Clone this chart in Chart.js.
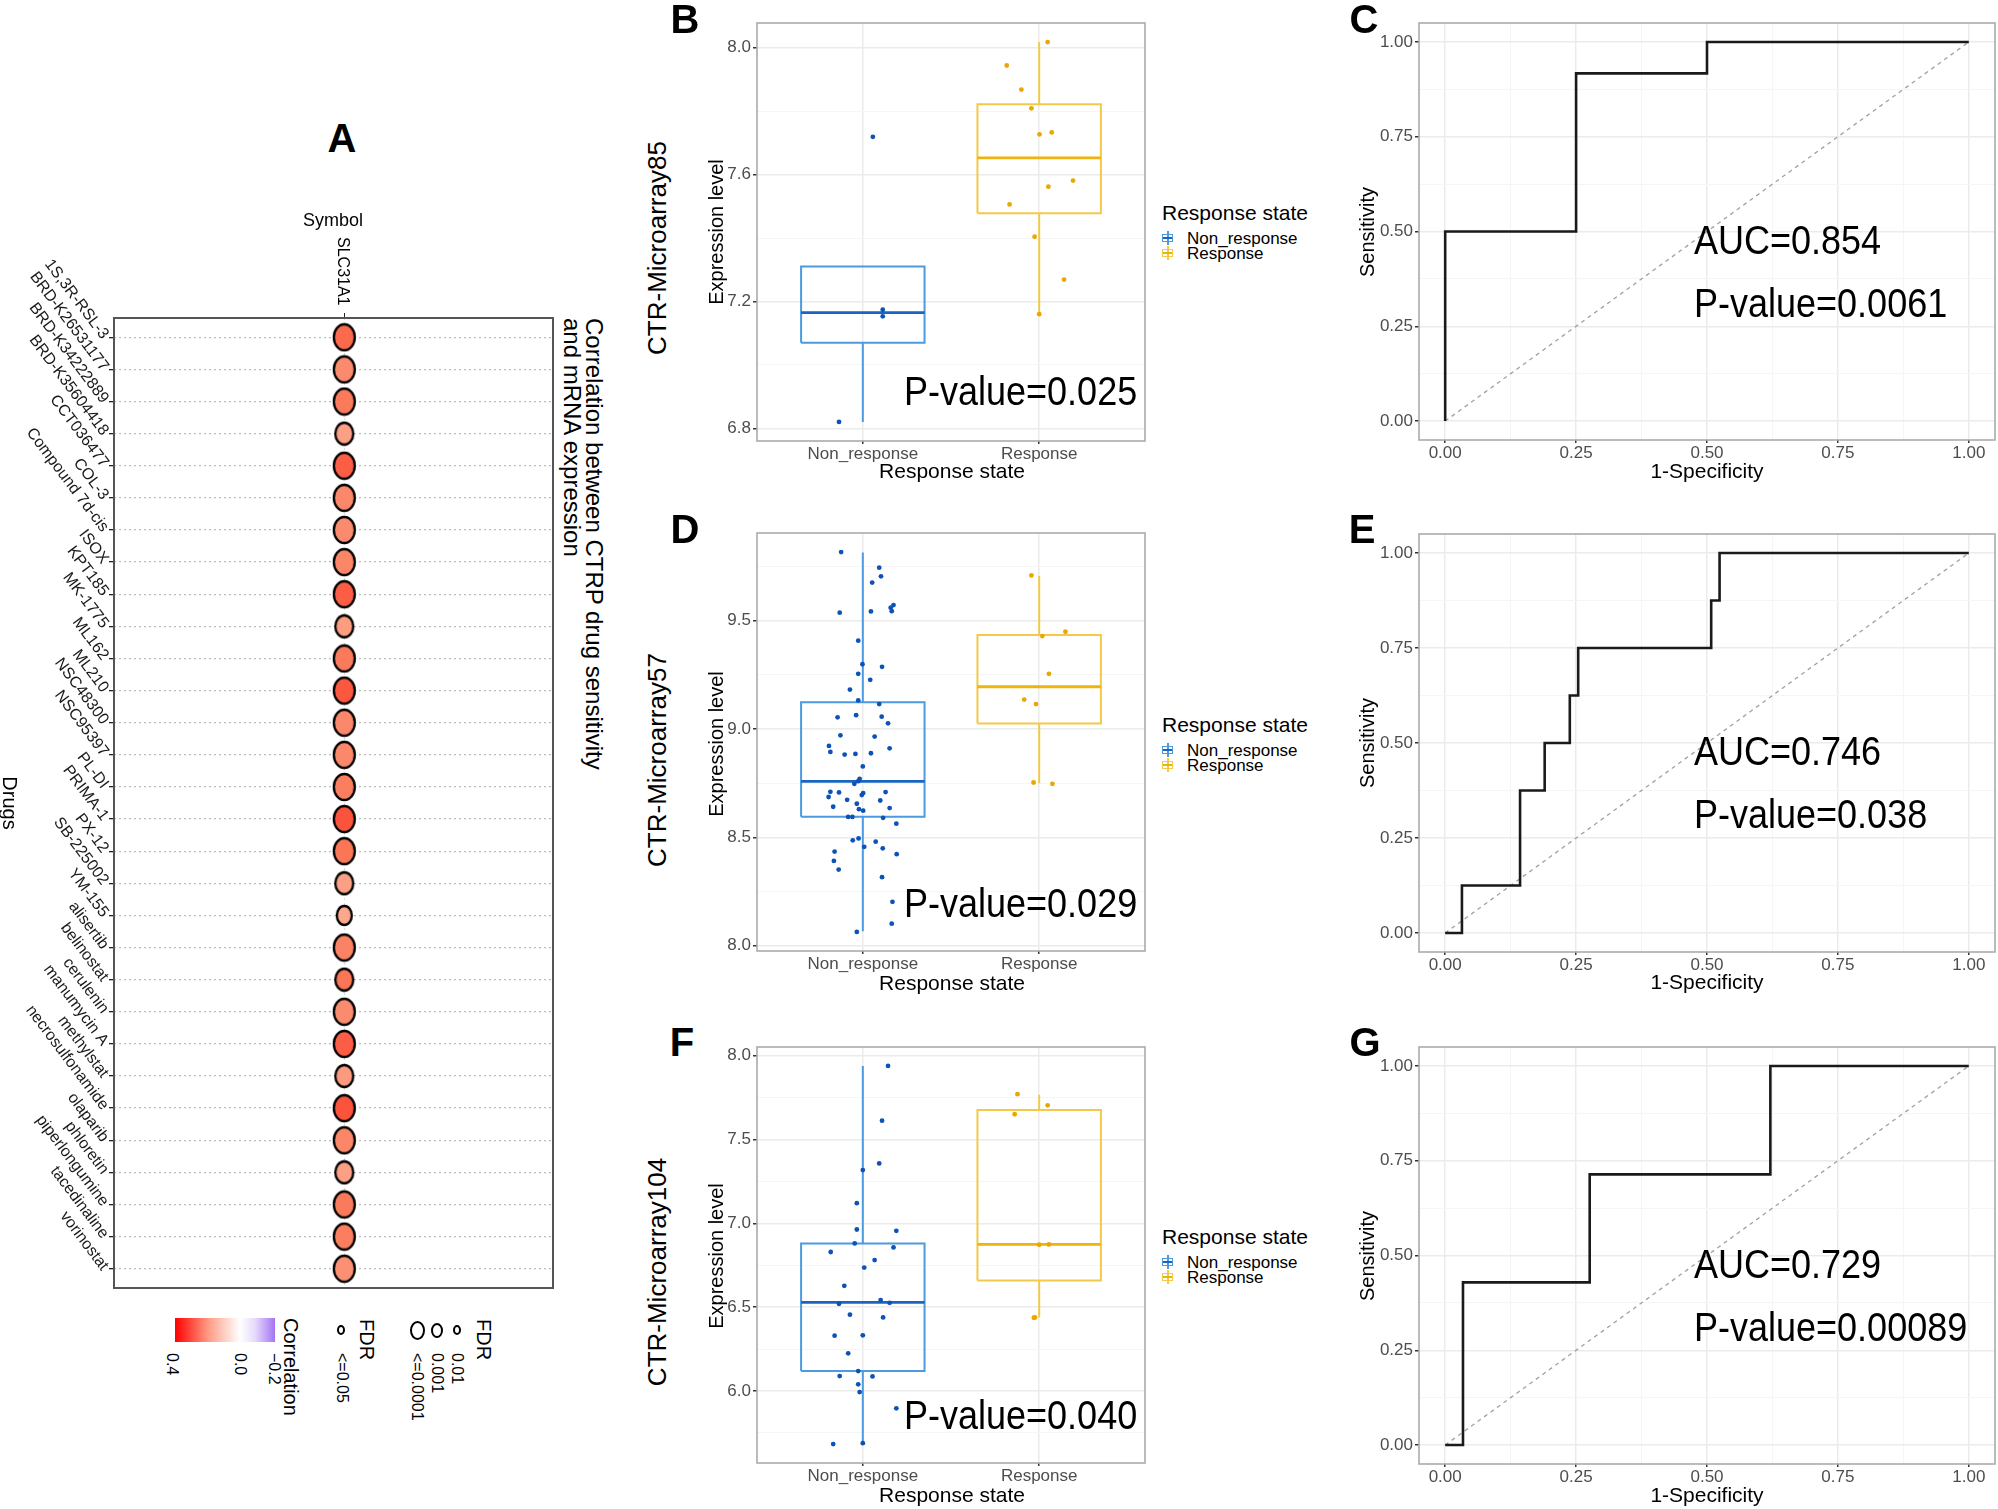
<!DOCTYPE html>
<html>
<head>
<meta charset="utf-8">
<script src="https://cdn.jsdelivr.net/npm/chart.js@4.4.0/dist/chart.umd.min.js"></script>
<style>
  body { margin: 0; background: #fff; width: 1998px; height: 1509px; position: relative; overflow: hidden;
         font-family: "Liberation Sans", Arial, sans-serif; color: #000; }
  .pane { position: absolute; }
  .t { position: absolute; white-space: nowrap; line-height: 1; }
  .v { writing-mode: vertical-rl; }
</style>
</head>
<body>
<script>
// ---------- panel A: drug sensitivity correlation ----------
const geneSymbol = 'SLC31A1';
const drugs = ['1S,3R-RSL-3', 'BRD-K26531177', 'BRD-K34222889', 'BRD-K35604418', 'CCT036477', 'COL-3',
  'Compound 7d-cis', 'ISOX', 'KPT185', 'MK-1775', 'ML162', 'ML210', 'NSC48300', 'NSC95397', 'PL-DI',
  'PRIMA-1', 'PX-12', 'SB-225002', 'YM-155', 'alisertib', 'belinostat', 'cerulenin', 'manumycin A',
  'methylstat', 'necrosulfonamide', 'olaparib', 'phloretin', 'piperlongumine', 'tacedinaline', 'vorinostat'];
const drugCorr = [0.31, 0.26, 0.29, 0.22, 0.32, 0.265, 0.26, 0.27, 0.32, 0.225, 0.29, 0.325, 0.265, 0.265, 0.285,
  0.33, 0.30, 0.22, 0.205, 0.275, 0.30, 0.26, 0.32, 0.23, 0.33, 0.27, 0.22, 0.29, 0.285, 0.25];
const drugFdr = [0.0001, 0.0001, 0.0001, 0.001, 0.0001, 0.0001, 0.0001, 0.0001, 0.0001, 0.001, 0.0001, 0.0001,
  0.0001, 0.0001, 0.0001, 0.0001, 0.0001, 0.001, 0.01, 0.0001, 0.001, 0.0001, 0.0001, 0.001, 0.0001, 0.0001,
  0.001, 0.0001, 0.0001, 0.0001];

// ---------- boxplots B / D / F ----------
const groups = ['Non_response', 'Response'];
// [jittered x, expression]
const ma85Non = [[1.057, 7.719], [1.113, 7.174], [1.113, 7.153], [0.865, 6.82]];
const ma85Resp = [[2.048, 8.018], [1.816, 7.944], [1.899, 7.868], [1.956, 7.809], [2.002, 7.727], [2.071, 7.733],
  [2.192, 7.581], [2.052, 7.562], [1.832, 7.506], [1.974, 7.404], [2.141, 7.269], [2.0, 7.160]];
// lower whisker, q1, median, q3, upper whisker
const ma85BoxNon = [6.82, 7.07, 7.165, 7.31, 7.31];
const ma85BoxResp = [7.16, 7.478, 7.653, 7.822, 8.018];
const ma85Range = [6.76, 8.078];
const ma85Ticks = [6.8, 7.2, 7.6, 8.0];
const ma85Minor = [7.0, 7.4, 7.8];

const ma57Non = [[0.877, 9.817], [1.093, 9.745], [1.103, 9.705], [1.053, 9.676], [0.869, 9.537], [1.046, 9.543],
  [1.158, 9.560], [1.174, 9.572], [1.164, 9.544], [0.974, 9.408], [0.998, 9.299], [1.109, 9.287], [0.974, 9.255],
  [1.042, 9.227], [0.927, 9.182], [0.974, 9.132], [1.093, 9.115], [0.857, 9.054], [0.962, 9.064], [1.107, 9.057],
  [1.143, 9.026], [0.873, 8.971], [1.067, 8.965], [0.808, 8.922], [0.816, 8.894], [0.897, 8.882], [0.958, 8.885],
  [1.046, 8.888], [1.152, 8.911], [1.0, 8.827], [0.982, 8.770], [0.974, 8.759], [0.952, 8.747], [0.816, 8.710],
  [0.865, 8.707], [1.002, 8.704], [0.994, 8.695], [1.129, 8.709], [0.806, 8.686], [0.911, 8.673], [1.099, 8.670],
  [0.966, 8.655], [0.978, 8.630], [1.002, 8.623], [0.832, 8.641], [1.152, 8.635], [0.917, 8.594], [0.941, 8.594],
  [1.115, 8.590], [1.190, 8.563], [0.943, 8.486], [0.976, 8.495], [1.008, 8.456], [1.073, 8.480], [1.113, 8.449],
  [0.840, 8.434], [0.836, 8.391], [1.192, 8.422], [0.863, 8.351], [1.109, 8.316], [1.168, 8.202], [1.164, 8.101],
  [0.966, 8.063]];
const ma57Resp = [[1.956, 9.709], [2.018, 9.429], [2.149, 9.449], [2.055, 9.255], [1.915, 9.136], [1.982, 9.115],
  [1.968, 8.753], [2.075, 8.747]];
const ma57BoxNon = [8.066, 8.595, 8.758, 9.123, 9.815];
const ma57BoxResp = [8.749, 9.025, 9.195, 9.434, 9.707];
const ma57Range = [7.975, 9.905];
const ma57Ticks = [8.0, 8.5, 9.0, 9.5];
const ma57Minor = [8.25, 8.75, 9.25, 9.75];

const ma104Non = [[1.143, 7.938], [1.109, 7.612], [1.093, 7.357], [1.0, 7.317], [0.966, 7.120], [0.966, 6.963],
  [1.190, 6.955], [0.954, 6.880], [1.174, 6.856], [0.818, 6.829], [1.067, 6.781], [1.008, 6.736], [0.895, 6.627],
  [1.101, 6.542], [1.152, 6.526], [0.865, 6.520], [0.927, 6.455], [1.115, 6.439], [0.840, 6.330], [1.0, 6.332],
  [0.917, 6.225], [0.974, 6.119], [0.869, 6.089], [1.055, 6.087], [0.974, 6.040], [0.982, 5.994], [1.190, 5.897],
  [0.832, 5.684], [1.0, 5.689]];
const ma104Resp = [[1.877, 7.770], [1.861, 7.650], [2.048, 7.703], [2.0, 6.872], [2.055, 6.874], [1.970, 6.437],
  [1.976, 6.439]];
const ma104BoxNon = [5.687, 6.119, 6.528, 6.880, 7.938];
const ma104BoxResp = [6.439, 6.659, 6.874, 7.675, 7.766];
const ma104Range = [5.571, 8.051];
const ma104Ticks = [6.0, 6.5, 7.0, 7.5, 8.0];
const ma104Minor = [5.75, 6.25, 6.75, 7.25, 7.75];

const boxPValues = ['0.025', '0.029', '0.040'];

// ---------- ROC curves C / E / G ----------
const rocCfpr = [0, 0, 0.25, 0.25, 0.5, 0.5, 1];
const rocCtpr = [0, 0.5, 0.5, 0.917, 0.917, 1, 1];
const rocEfpr = [0, 0.032, 0.032, 0.143, 0.143, 0.19, 0.19, 0.238, 0.238, 0.254, 0.254, 0.508, 0.508, 0.524, 0.524, 1];
const rocEtpr = [0, 0, 0.125, 0.125, 0.375, 0.375, 0.5, 0.5, 0.625, 0.625, 0.75, 0.75, 0.875, 0.875, 1, 1];
const rocGfpr = [0, 0.034, 0.034, 0.276, 0.276, 0.621, 0.621, 1];
const rocGtpr = [0, 0, 0.429, 0.429, 0.714, 0.714, 1, 1];
const rocAuc = ['0.854', '0.746', '0.729'];
const rocP = ['0.0061', '0.038', '0.00089'];
const rocRange = [-0.05, 1.05];
const rocTicks = [0, 0.25, 0.5, 0.75, 1];
const rocMinor = [0.125, 0.375, 0.625, 0.875];

// ---------------------------------------------------------------
Chart.defaults.font.family = '"Liberation Sans", Arial, sans-serif';
Chart.defaults.animation = false;
Chart.defaults.plugins.legend.display = false;
Chart.defaults.plugins.tooltip.enabled = false;

// panel border (theme_bw style)
Chart.register({
  id: 'frame',
  afterDatasetsDraw(chart, args, opts) {
    const a = chart.chartArea, ctx = chart.ctx;
    ctx.save();
    ctx.strokeStyle = opts.color || '#AAAAAA';
    ctx.lineWidth = opts.width || 1.5;
    ctx.strokeRect(a.left, a.top, a.right - a.left, a.bottom - a.top);
    ctx.restore();
  }
});

const colors = { nonBox: '#4C9ADF', nonMed: '#1965C1', nonPt: '#0D52B5',
                 respBox: '#F3C94A', respMed: '#EEB40B', respPt: '#E9A800' };

function place(area, pad) {
  const d = document.createElement('div');
  d.className = 'pane';
  d.style.left = (area[0] - pad.l) + 'px';
  d.style.top = (area[1] - pad.t) + 'px';
  d.style.width = (area[2] - area[0] + pad.l + pad.r) + 'px';
  d.style.height = (area[3] - area[1] + pad.t + pad.b) + 'px';
  const c = document.createElement('canvas');
  d.appendChild(c);
  document.body.appendChild(d);
  return c;
}

function label(s, x, y, size, extra) {
  const e = Object.assign({ anchor: 'center' }, extra);
  const d = document.createElement('div');
  d.className = 't' + (e.vert ? ' v' : '');
  d.innerHTML = s;
  d.style.left = x + 'px';
  d.style.top = y + 'px';
  d.style.fontSize = size + 'px';
  if (e.bold) d.style.fontWeight = 'bold';
  if (e.lh) d.style.lineHeight = e.lh + 'px';
  let tf = '';
  if (e.anchor === 'center') tf = 'translate(-50%,-50%)';
  else if (e.anchor === 'left') { tf = 'translate(0,-50%)'; d.style.transformOrigin = '0 50%'; }
  else if (e.anchor === 'top') tf = 'translate(-50%,0)';
  if (e.rot) tf += ' rotate(' + e.rot + 'deg)';
  if (e.sx) tf += ' scaleX(' + e.sx + ')';
  d.style.transform = tf;
  document.body.appendChild(d);
  return d;
}

// fixed axis size, no extra label padding
function fixW(w) { return s => { s.width = w; s.paddingTop = 0; s.paddingBottom = 0; }; }
function fixH(h) { return s => { s.height = h; s.paddingLeft = 0; s.paddingRight = 0; }; }

function numScale(range, major, minor, fmt, extra, tickOpts) {
  const all = major.concat(minor).sort((a, b) => a - b);
  const isMajor = v => major.some(m => Math.abs(m - v) < 1e-9);
  return Object.assign({
    type: 'linear', min: range[0], max: range[1],
    afterBuildTicks: s => { s.ticks = all.map(v => ({ value: v })); },
    ticks: Object.assign({ callback: v => isMajor(v) ? fmt(v) : '', color: '#4D4D4D', font: { size: 17 }, padding: 2,
             autoSkip: false, maxRotation: 0 }, tickOpts),
    grid: {
      color: c => c.tick && isMajor(c.tick.value) ? '#EBEBEB' : '#F5F5F5',
      lineWidth: c => c.tick && isMajor(c.tick.value) ? 1.5 : 1,
      tickColor: c => c.tick && isMajor(c.tick.value) ? '#333333' : 'rgba(0,0,0,0)',
      tickLength: (tickOpts && tickOpts.tl) || 4
    },
    border: { display: false }
  }, extra);
}

// ---------- boxplot panels ----------
const HALF_BOX = 0.35;
function boxChart(area, nonPts, respPts, boxNon, boxResp, range, major, minor) {
  const pad = { l: 60, r: 10, t: 10, b: 30 };
  const canvas = place(area, pad);
  const datasets = [];
  [[nonPts, colors.nonPt], [respPts, colors.respPt]].forEach(([pts, col]) => {
    datasets.push({ data: pts.map(p => ({ x: p[0], y: p[1] })), pointRadius: 2.4,
                    pointBackgroundColor: col, pointBorderWidth: 0, showLine: false });
  });
  [boxNon, boxResp].forEach((b, i) => {
    const c = i + 1;
    const col = i === 0 ? colors.nonBox : colors.respBox;
    const med = i === 0 ? colors.nonMed : colors.respMed;
    const line = (pts, color, w) => datasets.push({ data: pts, showLine: true, borderColor: color,
      borderWidth: w, pointRadius: 0, borderJoinStyle: 'miter' });
    line([{ x: c - HALF_BOX, y: b[2] }, { x: c + HALF_BOX, y: b[2] }], med, 2.8);
    line([{ x: c - HALF_BOX, y: b[1] }, { x: c + HALF_BOX, y: b[1] }, { x: c + HALF_BOX, y: b[3] },
          { x: c - HALF_BOX, y: b[3] }, { x: c - HALF_BOX, y: b[1] }], col, 2);
    line([{ x: c, y: b[0] }, { x: c, y: b[1] }], col, 2);
    line([{ x: c, y: b[3] }, { x: c, y: b[4] }], col, 2);
  });
  new Chart(canvas, {
    type: 'scatter',
    data: { datasets },
    options: {
      responsive: true, maintainAspectRatio: false,
      layout: { autoPadding: false, padding: { top: pad.t, right: pad.r, left: 0, bottom: 0 } },
      plugins: { frame: { color: '#ABABAB', width: 1.6 } },
      scales: {
        x: {
          type: 'linear', min: 0.4, max: 2.6,
          afterBuildTicks: s => { s.ticks = groups.map((g, i) => ({ value: i + 1 })); },
          ticks: { callback: (v, i) => groups[i], color: '#4D4D4D', font: { size: 17 }, padding: 0,
                   maxRotation: 0, autoSkip: false },
          grid: { color: '#EBEBEB', lineWidth: 1.5, tickColor: '#333333', tickLength: 3 },
          border: { display: false },
          afterFit: fixH(pad.b)
        },
        y: numScale(range, major, minor, v => v.toFixed(1), { afterFit: fixW(pad.l) })
      }
    }
  });
}

// ---------- ROC panels ----------
const chanceLine = [0, 1];
function rocChart(area, fpr, tpr) {
  const pad = { l: 60, r: 3, t: 10, b: 30 };
  const canvas = place(area, pad);
  new Chart(canvas, {
    type: 'scatter',
    data: {
      datasets: [
        { data: fpr.map((f, i) => ({ x: f, y: tpr[i] })), showLine: true, borderColor: '#1A1A1A',
          borderWidth: 2.6, pointRadius: 0, borderJoinStyle: 'miter' },
        { data: chanceLine.map(v => ({ x: v, y: v })), showLine: true, borderColor: '#A0A0A0',
          borderWidth: 1.3, borderDash: [4, 4], pointRadius: 0 }
      ]
    },
    options: {
      responsive: true, maintainAspectRatio: false,
      layout: { autoPadding: false, padding: { top: pad.t, right: pad.r, left: 0, bottom: 0 } },
      plugins: { frame: { color: '#ABABAB', width: 1.6 } },
      scales: {
        x: numScale(rocRange, rocTicks, rocMinor, v => v.toFixed(2), { afterFit: fixH(pad.b) },
                    { padding: 0, tl: 3 }),
        y: numScale(rocRange, rocTicks, rocMinor, v => v.toFixed(2), { afterFit: fixW(pad.l) })
      }
    }
  });
}

// ---------- correlation dot panel ----------
function corrColor(r) {
  const stops = [[0, [255, 255, 255]], [0.1, [255, 214, 200]], [0.2, [252, 170, 145]],
                 [0.3, [250, 118, 86]], [0.4, [255, 0, 0]]];
  const v = Math.max(0, Math.min(0.4, r));
  for (let i = 1; i < stops.length; i++) {
    if (v <= stops[i][0]) {
      const [a0, c0] = stops[i - 1], [a1, c1] = stops[i];
      const f = (v - a0) / (a1 - a0);
      return 'rgb(' + c0.map((c, k) => Math.round(c + (c1[k] - c) * f)).join(',') + ')';
    }
  }
  return 'rgb(255,0,0)';
}
function fdrSize(f) {
  if (f <= 0.0001) return [21, 26];
  if (f <= 0.001) return [18, 22];
  return [15, 19];
}
function ellipseSprite(fill, w, h) {
  const c = document.createElement('canvas');
  c.width = w + 4; c.height = h + 4;
  const g = c.getContext('2d');
  g.beginPath();
  g.ellipse(c.width / 2, c.height / 2, w / 2, h / 2, 0, 0, Math.PI * 2);
  g.fillStyle = fill; g.fill();
  g.lineWidth = 2.3; g.strokeStyle = '#000'; g.stroke();
  return c;
}

function dotChart(area) {
  const pad = { l: 114, r: 2, t: 118, b: 4 };
  const canvas = place(area, pad);
  const sprites = drugs.map((d, i) => { const s = fdrSize(drugFdr[i]); return ellipseSprite(corrColor(drugCorr[i]), s[0], s[1]); });
  new Chart(canvas, {
    type: 'scatter',
    data: { datasets: [{ data: drugs.map((d, i) => ({ x: 1, y: i + 1 })), pointStyle: sprites, pointRadius: 12 }] },
    options: {
      responsive: true, maintainAspectRatio: false,
      layout: { autoPadding: false, padding: { top: 0, right: pad.r, left: 0, bottom: pad.b } },
      plugins: { frame: { color: '#555555', width: 2 } },
      scales: {
        x: {
          type: 'linear', position: 'top', min: 0.36, max: 1.58,
          afterBuildTicks: s => { s.ticks = [{ value: 1 }]; },
          ticks: { callback: () => '', autoSkip: false },
          grid: { color: '#DDDDDD', lineWidth: 1, tickColor: '#222', tickLength: 5 },
          border: { display: false, dash: [2, 3] },
          afterFit: fixH(pad.t)
        },
        y: {
          type: 'linear', min: 0.4, max: 30.6, reverse: true,
          afterBuildTicks: s => { s.ticks = drugs.map((d, i) => ({ value: i + 1 })); },
          ticks: { callback: v => drugs[Math.round(v) - 1], color: '#1A1A1A', font: { size: 16 },
                   padding: 4, autoSkip: false, minRotation: -53 },
          grid: { color: '#BBBBBB', lineWidth: 1.3, tickColor: '#222', tickLength: 5 },
          border: { display: false, dash: [2, 3] },
          afterFit: fixW(pad.l)
        }
      }
    }
  });
}

// ---------- build ----------
dotChart([114, 318, 553, 1288]);

boxChart([757, 23, 1145, 441], ma85Non, ma85Resp, ma85BoxNon, ma85BoxResp, ma85Range, ma85Ticks, ma85Minor);
boxChart([757, 533, 1145, 951], ma57Non, ma57Resp, ma57BoxNon, ma57BoxResp, ma57Range, ma57Ticks, ma57Minor);
boxChart([757, 1047, 1145, 1463], ma104Non, ma104Resp, ma104BoxNon, ma104BoxResp, ma104Range, ma104Ticks, ma104Minor);

rocChart([1419, 23, 1995, 440], rocCfpr, rocCtpr);
rocChart([1419, 534, 1995, 952], rocEfpr, rocEtpr);
rocChart([1419, 1047, 1995, 1464], rocGfpr, rocGtpr);

// panel letters
[['A', 342, 138], ['B', 685, 19], ['C', 1364, 19], ['D', 685, 529], ['E', 1362, 529], ['F', 682, 1042], ['G', 1365, 1042]]
  .forEach(p => label(p[0], p[1], p[2], 40, { bold: true }));

// panel A texts
label('Symbol', 333, 220, 18);
label(geneSymbol, 343, 237, 16, { vert: true, anchor: 'top' });
label('Drugs', 10, 803, 20, { vert: true });
label('Correlation between CTRP drug sensitivity<br>and mRNA expression', 561, 318, 24, { vert: true, anchor: 'none', lh: 22 });

// panel A legends (rotated)
const grad = document.createElement('div');
grad.style.cssText = 'position:absolute;left:175px;top:1318px;width:100px;height:24px;' +
  'background:linear-gradient(to right,#FF0000 0%,#FF9A82 33%,#FFFFFF 65%,#E6DAFB 80%,#A374F4 100%)';
document.body.appendChild(grad);
label('0.4', 172, 1353, 16, { vert: true, anchor: 'top' });
label('0.0', 240, 1353, 16, { vert: true, anchor: 'top' });
label('\u22120.2', 274, 1353, 16, { vert: true, anchor: 'top' });
label('Correlation', 291, 1318, 20, { vert: true, anchor: 'top' });
label('FDR', 367, 1319, 20, { vert: true, anchor: 'top' });
label('&lt;=0.05', 342, 1353, 16, { vert: true, anchor: 'top' });
label('FDR', 484, 1319, 20, { vert: true, anchor: 'top' });
label('0.01', 457, 1353, 16, { vert: true, anchor: 'top' });
label('0.001', 437, 1353, 16, { vert: true, anchor: 'top' });
label('&lt;=0.0001', 417, 1353, 16, { vert: true, anchor: 'top' });
[[341, 8, 10], [457, 8, 10], [437, 12, 15], [417, 15, 19]].forEach(k => {
  const e = document.createElement('div');
  e.style.cssText = 'position:absolute;border:2px solid #000;border-radius:50%;box-sizing:border-box;' +
    'left:' + (k[0] - k[1] / 2) + 'px;top:' + (1330 - k[2] / 2) + 'px;width:' + k[1] + 'px;height:' + k[2] + 'px';
  document.body.appendChild(e);
});

// boxplot panel texts
const boxTitles = ['CTR-Microarray85', 'CTR-Microarray57', 'CTR-Microarray104'];
[0, 512, 1024].forEach((dy, i) => {
  label(boxTitles[i], 657, 248 + dy, 26, { rot: -90 });
  label('Expression level', 716, 232 + dy, 20, { rot: -90 });
  label('Response state', 952, 470 + dy, 21);
  label('P-value=' + boxPValues[i], 904, 391 + dy, 40, { anchor: 'left', sx: 0.9 });
  label('Response state', 1162, 212 + dy, 21, { anchor: 'left' });
  [[groups[0], colors.nonBox, colors.nonMed, 238], [groups[1], colors.respBox, colors.respMed, 253]].forEach(g => {
    const y = g[3] + dy;
    const k = document.createElement('div');
    k.style.cssText = 'position:absolute;left:1162px;top:' + (y - 4) + 'px;width:11px;height:8px;box-sizing:border-box;' +
      'border:1.5px solid ' + g[1];
    const m = document.createElement('div');
    m.style.cssText = 'position:absolute;left:0;right:0;top:2px;height:1.5px;background:' + g[2];
    k.appendChild(m);
    document.body.appendChild(k);
    const w = document.createElement('div');
    w.style.cssText = 'position:absolute;left:1167px;top:' + (y - 7) + 'px;width:1.5px;height:14px;background:' + g[1] + ';z-index:-1';
    document.body.appendChild(w);
    label(g[0], 1187, y, 17, { anchor: 'left' });
  });
});

// ROC panel texts
[[0, 0], [511, 1], [1024, 2]].forEach(([dy, i]) => {
  label('Sensitivity', 1367, 232 + dy, 20, { rot: -90 });
  label('1-Specificity', 1707, 470 + dy, 21);
  label('AUC=' + rocAuc[i], 1694, 240 + dy, 40, { anchor: 'left', sx: 0.9 });
  label('P-value=' + rocP[i], 1694, 303 + dy, 40, { anchor: 'left', sx: 0.9 });
});
</script>
</body>
</html>
